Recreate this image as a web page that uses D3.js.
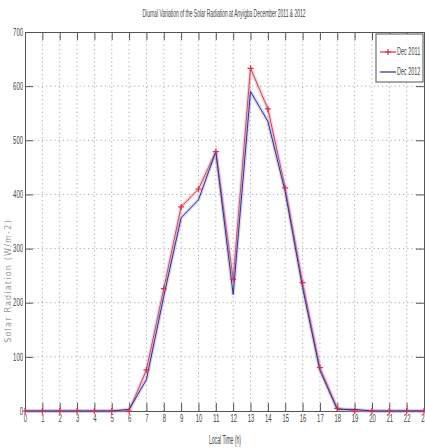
<!DOCTYPE html>
<html>
<head>
<meta charset="utf-8">
<script src="https://cdn.jsdelivr.net/npm/d3@7"></script>
<style>
  body { margin: 0; background: #fff; }
  svg text { font-family: "Liberation Sans", Arial, sans-serif; fill: #444; }
  .grid line { stroke: #aaa; stroke-dasharray: 1.2 3; }
</style>
</head>
<body>
<div id="chart"></div>
<script>
const hours = d3.range(0, 24);
const dec2011 = [0, 0, 0, 0, 0, 0, 0, 76, 226, 377, 410, 479, 243, 633, 558, 412, 237, 80, 5, 0, 0, 0, 0, 0];
const dec2012 = [0, 0, 0, 0, 0, 0, 3, 58, 212, 357, 390, 479, 215, 590, 535, 405, 228, 75, 3, 3, 0, 0, 0, 0];
const yTicks = [0, 100, 200, 300, 400, 500, 600, 700];

const W = 425, H = 448;
const M = { top: 32, right: 1, bottom: 37, left: 25 };

const svg = d3.select('#chart').append('svg').attr('width', W).attr('height', H);

const x = d3.scaleLinear().domain([0, 23]).range([M.left, W - M.right]);
const y = d3.scaleLinear().domain([0, 700]).range([H - M.bottom, M.top]);

// squeeze text horizontally, like the narrow font of the original
const narrow = (sel, perChar) => sel.each(function () {
  const t = d3.select(this);
  t.attr('textLength', t.text().length * perChar).attr('lengthAdjust', 'spacingAndGlyphs');
});

// grid
svg.append('g').attr('class', 'grid')
  .selectAll('line').data(hours.slice(1, -1)).join('line')
  .attr('x1', (d) => x(d)).attr('x2', (d) => x(d))
  .attr('y1', y(700)).attr('y2', y(0));
svg.append('g').attr('class', 'grid')
  .selectAll('line').data(yTicks.slice(1, -1)).join('line')
  .attr('x1', x(0)).attr('x2', x(23))
  .attr('y1', (d) => y(d)).attr('y2', (d) => y(d));

// axes (ticks inward, MATLAB style)
const tickLen = 8;
const gx = svg.append('g').attr('transform', `translate(0,${y(0)})`)
  .call(d3.axisBottom(x).tickValues(hours).tickSize(-tickLen).tickPadding(4).tickFormat(d3.format('d')));
const gxTop = svg.append('g').attr('transform', `translate(0,${y(700)})`)
  .call(d3.axisTop(x).tickValues(hours).tickSize(-tickLen).tickFormat(''));
const gy = svg.append('g').attr('transform', `translate(${x(0)},0)`)
  .call(d3.axisLeft(y).tickValues(yTicks).tickSize(-tickLen).tickPadding(2));
const gyR = svg.append('g').attr('transform', `translate(${x(23)},0)`)
  .call(d3.axisRight(y).tickValues(yTicks).tickSize(-tickLen).tickFormat(''));
[gx, gxTop, gy, gyR].forEach((g) => {
  g.select('.domain').attr('stroke', '#555');
  g.selectAll('.tick line').attr('stroke', '#555');
  g.selectAll('text').attr('font-size', 10).attr('fill', '#444').call(narrow, 3.3);
});

// lines
const line = d3.line().x((d, i) => x(hours[i])).y((d) => y(d));
[[dec2011, '#d8404f', 'rgba(225,130,150,0.35)'], [dec2012, '#30309a', 'rgba(160,150,215,0.4)']]
  .forEach(([vals, col, halo]) => {
    svg.append('path').datum(vals).attr('d', line).attr('fill', 'none')
      .attr('stroke', halo).attr('stroke-width', 3.5);
    svg.append('path').datum(vals).attr('d', line).attr('fill', 'none')
      .attr('stroke', col).attr('stroke-width', 1);
  });
svg.append('g').selectAll('path').data(dec2011).join('path')
  .attr('d', (d, i) => `M${x(hours[i]) - 3},${y(d)}h6M${x(hours[i])},${y(d) - 3}v6`)
  .attr('stroke', '#d6304a').attr('stroke-width', 1.2);

// legend
const lg = svg.append('g').attr('transform', 'translate(376,34)');
lg.append('rect').attr('width', 47).attr('height', 48).attr('fill', '#fff').attr('stroke', '#555');
lg.append('line').attr('x1', 4).attr('x2', 20).attr('y1', 18).attr('y2', 18).attr('stroke', '#d6304a').attr('stroke-width', 1.2);
lg.append('path').attr('d', 'M9,18h6M12,15v6').attr('stroke', '#d6304a').attr('stroke-width', 1.2);
lg.append('text').attr('x', 21).attr('y', 21).attr('font-size', 10).text('Dec 2011').call(narrow, 2.9);
lg.append('line').attr('x1', 4).attr('x2', 20).attr('y1', 38).attr('y2', 38).attr('stroke', '#2a2a8c').attr('stroke-width', 1.2);
lg.append('text').attr('x', 21).attr('y', 41).attr('font-size', 10).text('Dec 2012').call(narrow, 2.9);

// titles
svg.append('text').attr('x', 224).attr('y', 17).attr('text-anchor', 'middle')
  .attr('font-size', 10).attr('textLength', 163).attr('lengthAdjust', 'spacingAndGlyphs')
  .text('Diurnal Variation of the Solar Radiation at Anyigba December 2011 & 2012');
svg.append('text').attr('x', 225).attr('y', 444).attr('text-anchor', 'middle')
  .attr('font-size', 12).attr('textLength', 32).attr('lengthAdjust', 'spacingAndGlyphs')
  .text('Local Time (h)');
svg.append('text').attr('transform', 'translate(11,281) rotate(-90)').attr('text-anchor', 'middle')
  .attr('font-size', 8).attr('letter-spacing', 1.2)
  .style('font-family', 'DejaVu Sans').style('fill', '#999')
  .text('Solar Radiation (W/m-2)');
</script>
</body>
</html>
